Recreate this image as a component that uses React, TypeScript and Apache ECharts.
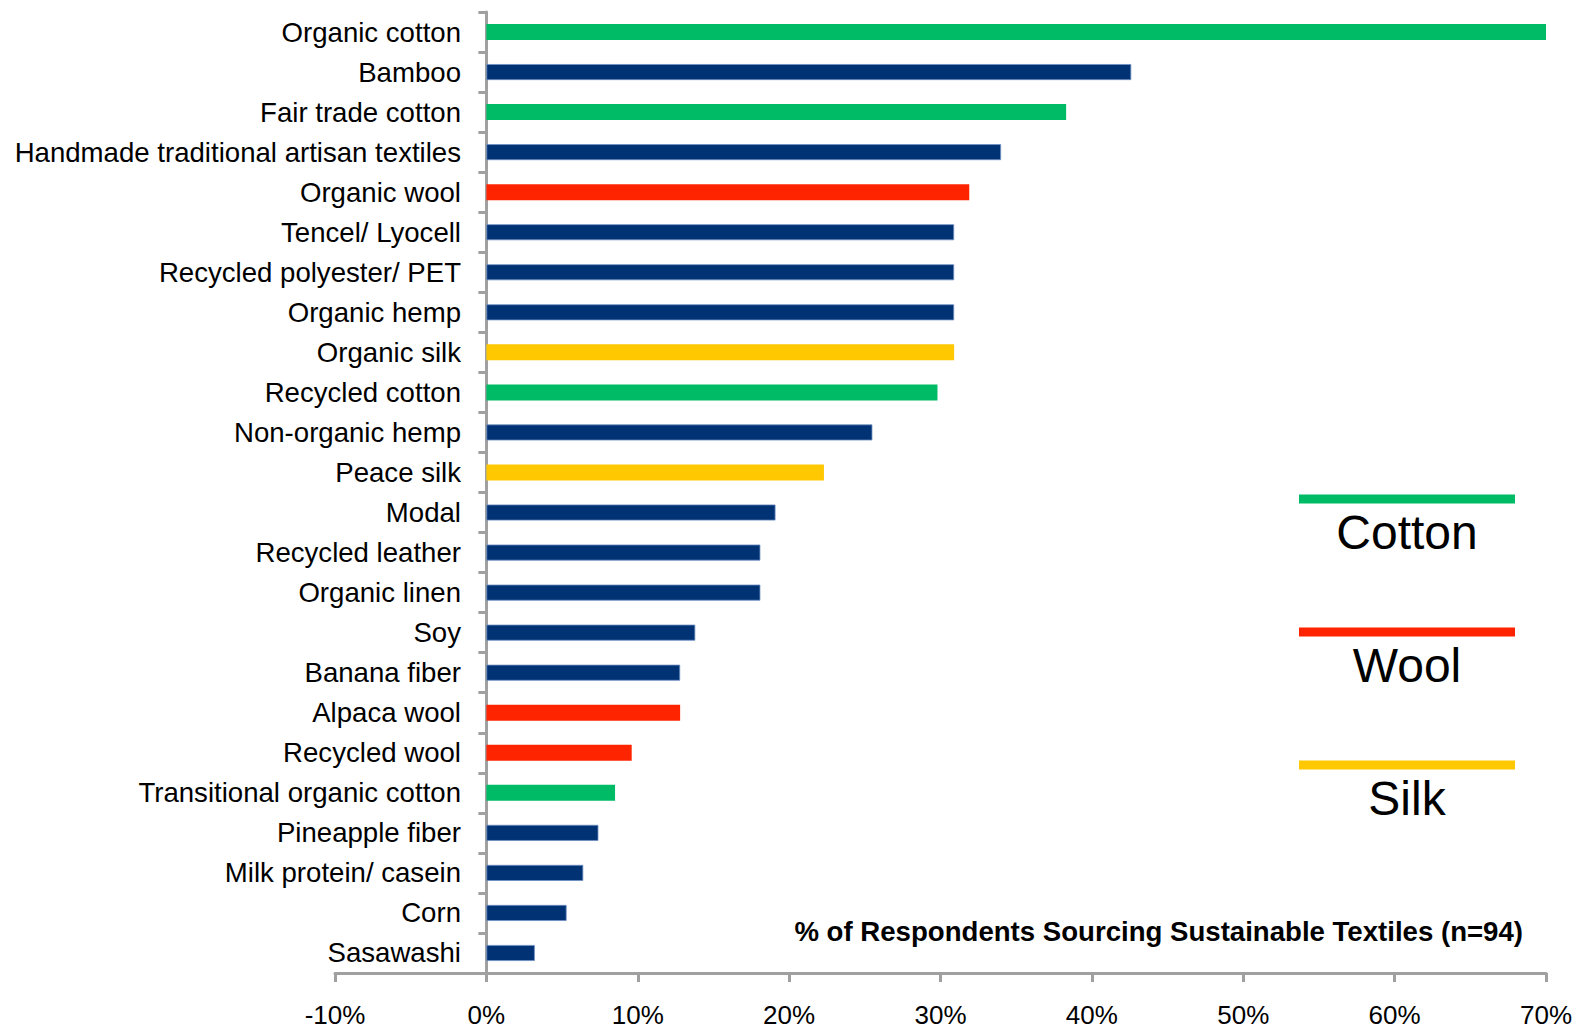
import React, { useEffect, useRef } from "react";
import * as echarts from "echarts";

const categories = [
  "Organic cotton",
  "Bamboo",
  "Fair trade cotton",
  "Handmade traditional artisan textiles",
  "Organic wool",
  "Tencel/ Lyocell",
  "Recycled polyester/ PET",
  "Organic hemp",
  "Organic silk",
  "Recycled cotton",
  "Non-organic hemp",
  "Peace silk",
  "Modal",
  "Recycled leather",
  "Organic linen",
  "Soy",
  "Banana fiber",
  "Alpaca wool",
  "Recycled wool",
  "Transitional organic cotton",
  "Pineapple fiber",
  "Milk protein/ casein",
  "Corn",
  "Sasawashi",
];

const values = [
  70.2, 42.6, 38.3, 34.0, 31.9, 30.9, 30.9, 30.9, 30.9, 29.8, 25.5, 22.3,
  19.1, 18.1, 18.1, 13.8, 12.8, 12.8, 9.6, 8.5, 7.4, 6.4, 5.3, 3.2,
];

const groups = [
  "Cotton", "Other", "Cotton", "Other", "Wool", "Other", "Other", "Other",
  "Silk", "Cotton", "Other", "Silk", "Other", "Other", "Other", "Other",
  "Other", "Wool", "Wool", "Cotton", "Other", "Other", "Other", "Other",
];

const legendItems = ["Cotton", "Wool", "Silk"];
const tickLabels = ["-10%", "0%", "10%", "20%", "30%", "40%", "50%", "60%", "70%"];
const axisTitle = "% of Respondents Sourcing Sustainable Textiles (n=94)";

const groupColors: Record<string, string> = {
  Cotton: "#00BB66",
  Wool: "#FF2400",
  Silk: "#FFC800",
  Other: "#003274",
};

const FONT = "'Liberation Sans', Arial, sans-serif";

export default function App() {
  const ref = useRef<HTMLDivElement>(null);

  useEffect(() => {
    if (!ref.current) return;
    const chart = echarts.init(ref.current, undefined, { renderer: "svg" });

    const legendGraphics: any[] = [];
    legendItems.forEach((name, i) => {
      const y = 499 + i * 133;
      legendGraphics.push({
        type: "rect",
        shape: { x: 1299, y: y - 4.5, width: 216, height: 9 },
        style: { fill: groupColors[name] },
      });
      legendGraphics.push({
        type: "text",
        x: 1407,
        y: y + 33,
        style: {
          text: name,
          fontFamily: FONT,
          fontSize: 48,
          fill: "#000",
          align: "center",
          verticalAlign: "middle",
        },
      });
    });

    chart.setOption({
      animation: false,
      backgroundColor: "#fff",
      grid: {
        left: 335,
        right: 33,
        top: 12,
        bottom: 56,
        containLabel: false,
        outerBoundsMode: "none",
      },
      xAxis: {
        type: "value",
        min: -10,
        max: 70,
        interval: 10,
        axisLine: { show: true, lineStyle: { color: "#A0A0A0", width: 3 } },
        axisTick: { show: true, length: 9, lineStyle: { color: "#A0A0A0", width: 3 } },
        splitLine: { show: false },
        axisLabel: {
          fontFamily: FONT,
          fontSize: 26,
          color: "#000",
          margin: 29,
          formatter: (v: number) => tickLabels[Math.round((v + 10) / 10)] ?? "",
        },
      },
      yAxis: {
        type: "category",
        inverse: true,
        data: categories,
        axisLine: { show: true, onZero: true, lineStyle: { color: "#A0A0A0", width: 3 } },
        axisTick: { show: true, length: 8, lineStyle: { color: "#A0A0A0", width: 3 } },
        axisLabel: {
          fontFamily: FONT,
          fontSize: 27.6,
          color: "#000",
          margin: -126,
          interval: 0,
        },
      },
      series: [
        {
          type: "bar",
          barWidth: 16,
          clip: true,
          data: values.map((v, i) => ({
            value: v,
            itemStyle: {
              color: groupColors[groups[i]],
              borderColor: groups[i] === "Other" ? "#6F8FC4" : groupColors[groups[i]],
              borderWidth: groups[i] === "Other" ? 0.8 : 0,
            },
          })),
        },
      ],
      graphic: [
        ...legendGraphics,
        {
          type: "text",
          x: 1523,
          y: 931,
          style: {
            text: axisTitle,
            fontFamily: FONT,
            fontSize: 27.6,
            fontWeight: "bold",
            fill: "#000",
            align: "right",
            verticalAlign: "middle",
          },
        },
      ],
    });

    return () => chart.dispose();
  }, []);

  return (
    <div
      ref={ref}
      style={{ position: "fixed", left: 0, top: 0, width: 1579, height: 1029 }}
    />
  );
}
